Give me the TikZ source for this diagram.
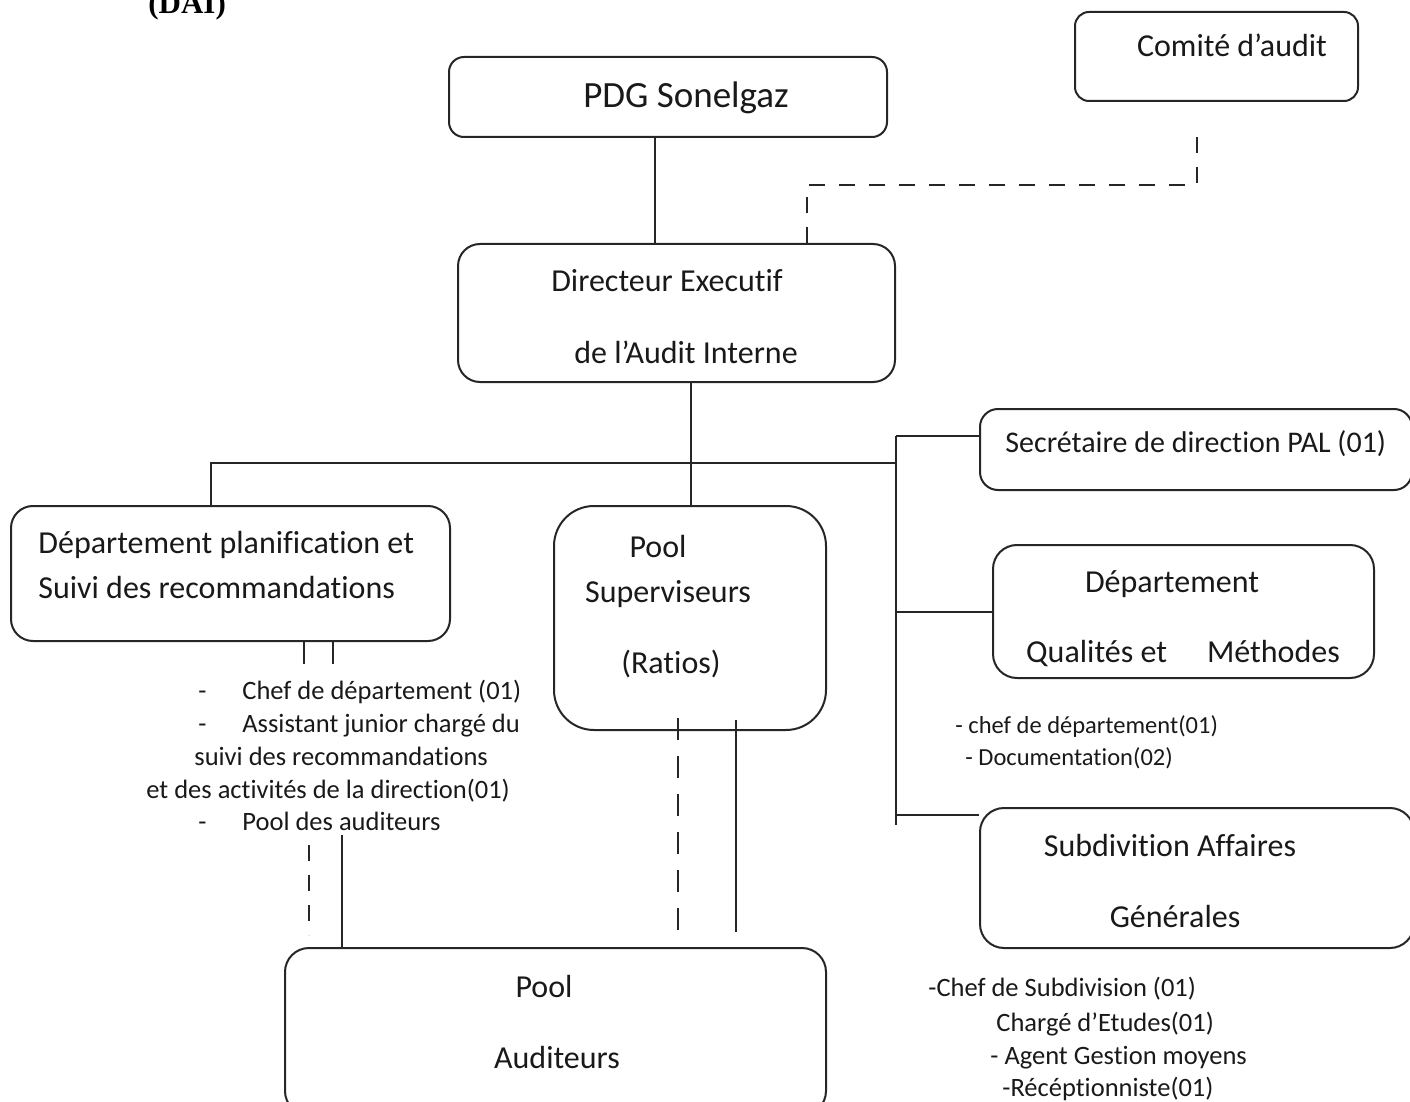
\documentclass[tikz,border=0pt]{standalone}
\usepackage{fontspec}
\setmainfont[Ligatures=NoCommon]{Carlito}
\newfontfamily\daifont{Liberation Serif}

\tikzset{
	orgbox/.style={draw=black!85, line width=1pt, inner sep=0pt},
	txt/.style={anchor=base, inner sep=0pt, font=\fontsize{16}{19}\selectfont, text=black!90},
	ltxt/.style={anchor=base west, inner sep=0pt, font=\fontsize{16}{19}\selectfont, text=black!90},
	smalltxt/.style={anchor=base west, inner sep=0pt, font=\fontsize{13.25}{16}\selectfont, text=black!90},
	conn/.style={draw=black!85, line width=1pt},
	dashconn/.style={conn, dash pattern=on 8pt off 7pt}
}

\begin{document}
\begin{tikzpicture}[x=0.5pt, y=-0.5pt]
		\useasboundingbox (0,0) rectangle (1410,1102);
		\node[anchor=base west, inner sep=0pt, font=\daifont\bfseries\fontsize{15.5}{18}\selectfont] (dai) at (148,14) {(DAI)};

		\node[orgbox, rounded corners=7.5pt, minimum width=219pt, minimum height=40pt] (pdg) at (668,97) {};
		\node[txt, font=\fontsize{18.5}{22}\selectfont] (pdgtxt) at (686,108) {PDG Sonelgaz};
		\node[orgbox, rounded corners=7pt, minimum width=141.5pt, minimum height=44.5pt] (comite) at (1216.5,56.5) {};
		\node[txt] (comitetxt) at (1232,57) {Comité d’audit};
		\node[orgbox, rounded corners=11pt, minimum width=218.5pt, minimum height=69pt] (dir) at (676.5,313) {};
		\node[txt] (dirtxta) at (667,292) {Directeur Executif};
		\node[txt] (dirtxtb) at (686,363) {de l’Audit Interne};
		\node[orgbox, rounded corners=11pt, minimum width=219.5pt, minimum height=67.5pt] (planif) at (230.5,573.5) {};
		\node[ltxt] (planiftxta) at (38,553) {Département planification et};
		\node[ltxt] (planiftxtb) at (38,598) {Suivi des recommandations};
		\node[orgbox, rounded corners=20pt, minimum width=136pt, minimum height=112pt] (superv) at (690,618) {};
		\node[txt] (supervtxta) at (658,557) {Pool};
		\node[txt] (supervtxtb) at (668,602) {Superviseurs};
		\node[txt] (supervtxtc) at (671,673) {(Ratios)};
		\node[orgbox, rounded corners=9pt, minimum width=216pt, minimum height=40.5pt] (secr) at (1196,449.5) {};
		\node[ltxt, font=\fontsize{15}{18}\selectfont] (secrtxt) at (1005,452) {Secrétaire de direction PAL (01)};
		\node[orgbox, rounded corners=12pt, minimum width=190.5pt, minimum height=66.5pt] (qm) at (1183.5,611.5) {};
		\node[txt] (qmtxta) at (1172,592) {Département};
		\node[txt] (qmtxtb) at (1183,662) {Qualités et\hspace{1.25em}Méthodes};
		\node[orgbox, rounded corners=12pt, minimum width=217pt, minimum height=70pt] (subd) at (1197,878) {};
		\node[txt] (subdtxta) at (1170,856) {Subdivition Affaires};
		\node[txt] (subdtxtb) at (1175,927) {Générales};
		\node[orgbox, rounded corners=12pt, minimum width=270.5pt, minimum height=83.5pt] (audit) at (555.5,1031.5) {};
		\node[txt] (audittxta) at (544,997) {Pool};
		\node[txt] (audittxtb) at (557,1068) {Auditeurs};

		\node[smalltxt] (dasha) at (198,699) {-};
		\node[smalltxt] (lista) at (242,699) {Chef de département (01)};
		\node[smalltxt] (dashb) at (198,732) {-};
		\node[smalltxt] (listb) at (242,732) {Assistant junior chargé du};
		\node[smalltxt] (listc) at (194,765) {suivi des recommandations};
		\node[smalltxt] (listd) at (146,798) {et des activités de la direction(01)};
		\node[smalltxt] (dashe) at (198,830) {-};
		\node[smalltxt] (liste) at (242,830) {Pool des auditeurs};
		\node[smalltxt, font=\fontsize{12.25}{15}\selectfont] (qmlista) at (955,733) {- chef de département(01)};
		\node[smalltxt, font=\fontsize{12.25}{15}\selectfont] (qmlistb) at (965,765) {- Documentation(02)};
		\node[smalltxt] (subdlista) at (928,996) {-Chef de Subdivision (01)};
		\node[smalltxt] (subdlistb) at (996,1031) {Chargé d’Etudes(01)};
		\node[smalltxt] (subdlistc) at (990,1064) {- Agent Gestion moyens};
		\node[smalltxt] (subdlistd) at (1002,1096) {-Récéptionniste(01)};

		\coordinate (cmt) at (1197,127);
		\coordinate (cmtbend) at (807,185);
		\coordinate (busR) at (896,463);
		\coordinate (trunkT) at (896,436);
		\coordinate (trunkB) at (896,825);
		\coordinate (subdbr) at (896,815);
		\coordinate (pa) at (309,845);
		\coordinate (paend) at (309,935);
		\coordinate (pb) at (342,835);
		\coordinate (sva) at (678,718);
		\coordinate (svaend) at (678,932);
		\coordinate (svb) at (736,720);
		\coordinate (svbend) at (736,932);

		\draw[conn] (655,0 |- pdg.south) -- (655,0 |- dir.north);
		\draw[dashconn] (cmtbend |- dir.north) -- (cmtbend) -| (cmt);
		\draw[conn] (691,0 |- dir.south) -- (691,0 |- superv.north);
		\draw[conn] (211,0 |- planif.north) |- (busR);
		\draw[conn] (trunkT) -- (trunkB);
		\draw[conn] (trunkT) -- (secr.west |- trunkT);
		\draw[conn] (trunkT |- qm.west) -- (qm.west);
		\draw[conn] (subdbr) -- (subd.west |- subdbr);
		\draw[conn] (304,0 |- planif.south) -- (304,664);
		\draw[conn] (333,0 |- planif.south) -- (333,664);
		\draw[dashconn] (pa) -- (paend);
		\draw[conn] (pb) -- (pb |- audit.north);
		\draw[dashconn, dash pattern=on 11pt off 8pt] (sva) -- (svaend);
		\draw[conn] (svb) -- (svbend);
	\end{tikzpicture}
\end{document}
